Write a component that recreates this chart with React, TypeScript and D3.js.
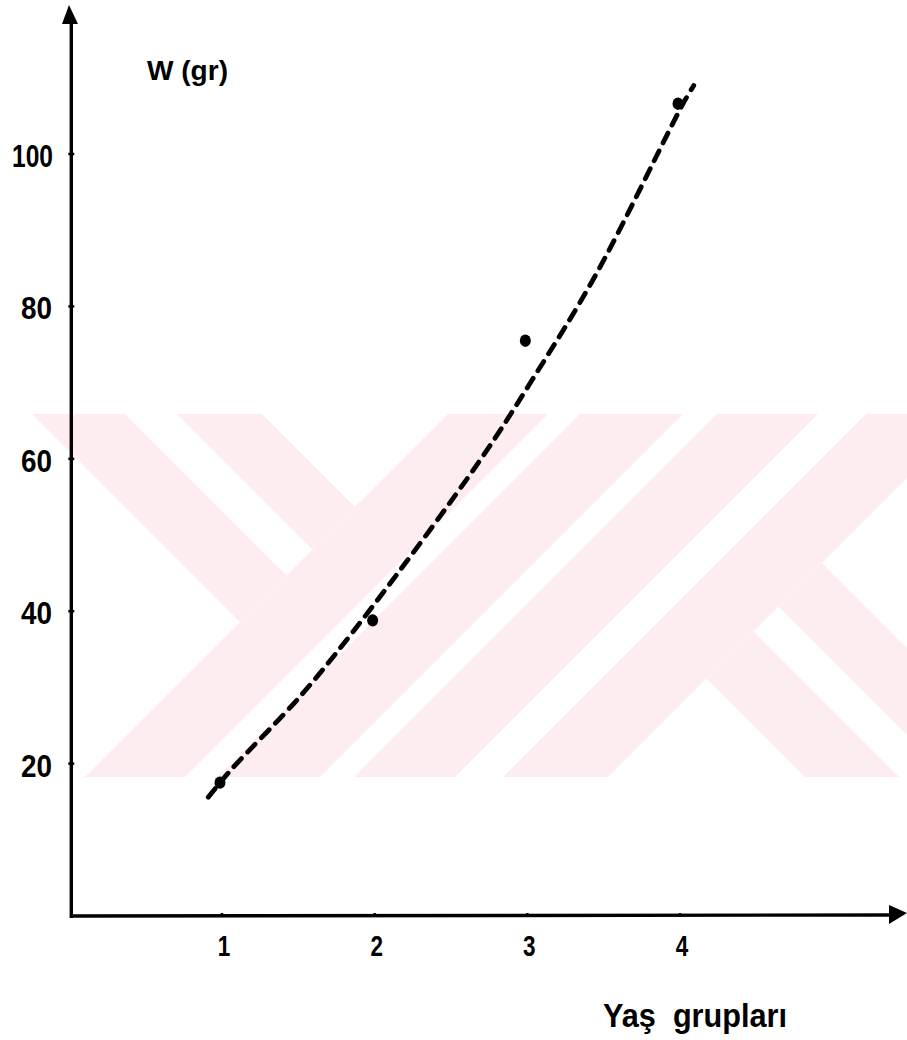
import * as d3 from "d3";

// values
const ageGroups = [1, 2, 3, 4];
const weights = [17.5, 38.8, 75.5, 106.6];

// the hand-drawn fitted curve, sampled along its length
const curveAge = [0.91, 1.06, 1.52, 1.97, 2.69, 3.03, 3.45, 4.02, 4.09];
const curveWeight = [15.6, 19.2, 29.0, 40.2, 59.8, 70.3, 84.2, 106.6, 109.0];

const xTicks = ["1", "2", "3", "4"];
const yTicks = ["20", "40", "60", "80", "100"];

const W = 907;
const H = 1040;

// watermark stripes (x+y for "/" and x-y for "\")
const bandTop = 414;
const bandBottom = 777;
const slashStripes = [[862, 962], [994, 1097], [1131, 1232], [1280, 1385]];
const leftBackStripes = [[-382, -289], [-237, -152]];
const rightBackStripes = [[28, 122], [172, 259]];

const App = () => {
    const x = d3.scaleLinear().domain([0, 4]).range([69.3, 680]);
    const y = d3.scaleLinear().domain([0, 100]).range([916, 154]);

    const line = d3
        .line<number>()
        .x((d, i) => x(curveAge[i]))
        .y((d) => y(d))
        .curve(d3.curveCatmullRom.alpha(0.5));

    const pts = (p: number[][]) => p.map((q) => q.join(",")).join(" ");

    const polys: string[] = [];
    slashStripes.forEach(([s1, s2]) => {
        polys.push(pts([[s1 - bandTop, bandTop], [s2 - bandTop, bandTop], [s2 - bandBottom, bandBottom], [s1 - bandBottom, bandBottom]]));
    });
    leftBackStripes.forEach(([c1, c2]) => {
        const s = slashStripes[0][0];
        polys.push(pts([[bandTop + c1, bandTop], [bandTop + c2, bandTop], [(s + c2) / 2, (s - c2) / 2], [(s + c1) / 2, (s - c1) / 2]]));
    });
    rightBackStripes.forEach(([c1, c2]) => {
        const s = slashStripes[3][1];
        polys.push(pts([[(s + c1) / 2, (s - c1) / 2], [(s + c2) / 2, (s - c2) / 2], [bandBottom + c2, bandBottom], [bandBottom + c1, bandBottom]]));
    });

    const font = "'Liberation Sans', Arial, sans-serif";
    const x0 = x(0);
    const y0 = y(0);

    return (
        <svg
            width={W}
            height={H}
            style={{ position: "absolute", left: 0, top: 0, background: "#fff" }}
        >
            <defs>
                <clipPath id="band">
                    <rect x={0} y={bandTop} width={W} height={bandBottom - bandTop} />
                </clipPath>
            </defs>

            <g clipPath="url(#band)" fill="#fdedf0">
                {polys.map((p, i) => (
                    <polygon key={i} points={p} />
                ))}
            </g>

            {/* axes */}
            <line x1={x0 + 2} y1={y0} x2={892} y2={y0 - 1} stroke="#000" strokeWidth={3.4} />
            <path d="M889,905 L907,913 L889,924 Z" fill="#000" />
            <line x1={x0 + 2} y1={y0 + 2} x2={x0 + 2} y2={22} stroke="#000" strokeWidth={3.4} />
            <path d="M62,24 L69,5 L78,24 Z" fill="#000" />

            {yTicks.map((t) => (
                <g key={t}>
                    <line x1={x0 - 1} x2={x0 + 5} y1={y(+t)} y2={y(+t)} stroke="#000" strokeWidth={2.5} />
                    <text
                        x={t.length === 3 ? 12 : 21}
                        y={y(+t) + 13}
                        textLength={t.length === 3 ? 41 : 31}
                        lengthAdjust="spacingAndGlyphs"
                        fontFamily={font}
                        fontWeight="bold"
                        fontSize={32}
                    >
                        {t}
                    </text>
                </g>
            ))}

            {xTicks.map((t) => (
                <g key={t}>
                    <line x1={x(+t)} x2={x(+t)} y1={y0 - 3} y2={y0} stroke="#000" strokeWidth={2.5} />
                    <text
                        x={x(+t) + 2}
                        y={956}
                        textAnchor="middle"
                        transform={`translate(${x(+t) + 2},0) scale(0.75,1) translate(${-(x(+t) + 2)},0)`}
                        fontFamily={font}
                        fontWeight="bold"
                        fontSize={30}
                    >
                        {t}
                    </text>
                </g>
            ))}

            <path
                d={line(curveWeight) || ""}
                fill="none"
                stroke="#000"
                strokeWidth={4.8}
                strokeLinecap="round"
                strokeDasharray="11 9"
            />

            {ageGroups.map((a, i) => (
                <ellipse key={a} cx={x(a) - 2} cy={y(weights[i])} rx={5.5} ry={6.2} fill="#000" />
            ))}

            <text
                x={147}
                y={80}
                textLength={81}
                lengthAdjust="spacingAndGlyphs"
                fontFamily={font}
                fontWeight="bold"
                fontSize={28}
            >
                W (gr)
            </text>

            <text
                x={603}
                y={1027}
                textLength={184}
                lengthAdjust="spacingAndGlyphs"
                fontFamily={font}
                fontWeight="bold"
                fontSize={34}
                style={{ whiteSpace: "pre" }}
            >
                {"Yaş  grupları"}
            </text>
        </svg>
    );
};

export default App;
